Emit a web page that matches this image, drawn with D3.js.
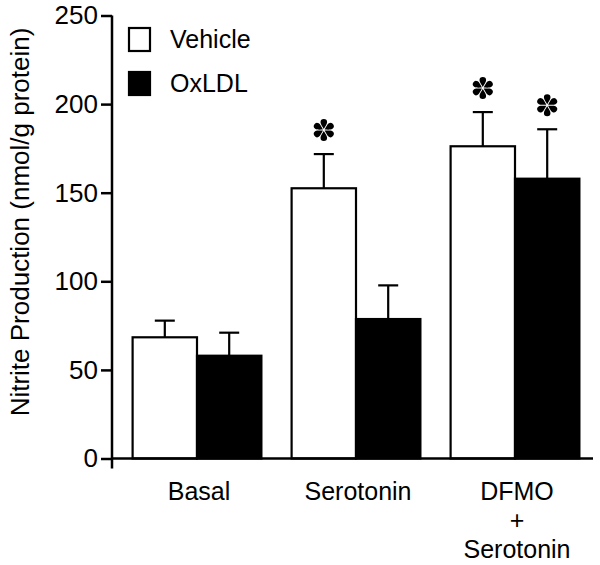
<!DOCTYPE html>
<html>
<head>
<meta charset="utf-8">
<script src="https://cdn.jsdelivr.net/npm/d3@7"></script>
<style>
  body { margin: 0; background: #fff; }
  svg { display: block; font-family: Arial, "Liberation Sans", sans-serif; }
</style>
</head>
<body>
<svg id="chart" width="600" height="565"></svg>
<script>
const categories = ["Basal", "Serotonin", "DFMO\n+\nSerotonin"];
const seriesNames = ["Vehicle", "OxLDL"];
const vehicleMeans = [68.4, 152.5, 176.2];
const vehicleErrTop = [77.8, 171.8, 195.5];
const oxldlMeans = [58.0, 78.7, 157.9];
const oxldlErrTop = [71.0, 97.7, 185.8];
const vehicleSig = [false, true, true];
const oxldlSig = [false, false, true];
const yTicks = [0, 50, 100, 150, 200, 250];

const svg = d3.select("#chart");
const axisX0 = 112, axisX1 = 593;
const y = d3.scaleLinear().domain([0, 250]).range([458.5, 15.5]);
const x0 = d3.scaleBand().domain(categories).range([117.5, 594.5]).paddingInner(0.19).paddingOuter(0.095);
const x1 = d3.scaleBand().domain(seriesNames).range([0, x0.bandwidth()]);

const series = [
  { name: "Vehicle", means: vehicleMeans, err: vehicleErrTop, sig: vehicleSig, fill: "#fff" },
  { name: "OxLDL", means: oxldlMeans, err: oxldlErrTop, sig: oxldlSig, fill: "#000" }
];

const rows = [];
series.forEach(s => categories.forEach((c, i) => rows.push({ s, c, v: s.means[i], e: s.err[i], sig: s.sig[i] })));

function drawAsterisk(sel, cx, cy) {
  const a = sel.append("g").attr("transform", `translate(${cx},${cy})`);
  for (let k = 0; k < 6; k++) {
    const ang = k * 60;
    a.append("path")
      .attr("d", "M0,-1 C-1.2,-3 -3.3,-6 -3.3,-7.7 A3.3,3.3 0 0 1 3.3,-7.7 C3.3,-6 1.2,-3 0,-1 Z")
      .attr("transform", `rotate(${ang})`)
      .attr("fill", "#000");
  }
}

const g = svg.append("g");
// error bars
rows.forEach(r => {
  const cx = x0(r.c) + x1(r.s.name) + x1.bandwidth() / 2;
  g.append("line").attr("x1", cx).attr("x2", cx).attr("y1", y(r.v)).attr("y2", y(r.e))
    .attr("stroke", "#000").attr("stroke-width", 2.2);
  g.append("line").attr("x1", cx - 10).attr("x2", cx + 10).attr("y1", y(r.e)).attr("y2", y(r.e))
    .attr("stroke", "#000").attr("stroke-width", 2.2);
  if (r.sig) drawAsterisk(g, cx, y(r.e) - 24);
});
// bars
rows.forEach(r => {
  const bx = x0(r.c) + x1(r.s.name);
  g.append("rect").attr("x", bx).attr("y", y(r.v)).attr("width", x1.bandwidth())
    .attr("height", y(0) - y(r.v)).attr("fill", r.s.fill).attr("stroke", "#000").attr("stroke-width", 2.2);
});

// y axis
const yAxis = d3.axisLeft(y).tickValues(yTicks).tickSize(11).tickPadding(3).tickSizeOuter(0);
const ya = svg.append("g").attr("transform", `translate(${axisX0},0)`).call(yAxis);
ya.select(".domain").remove();
ya.append("line").attr("x1", 0).attr("x2", 0).attr("y1", y(250)).attr("y2", y(0) + 10)
  .attr("stroke", "#000").attr("stroke-width", 2.5);
ya.selectAll(".tick line").attr("stroke-width", 2.5);
ya.selectAll(".tick text").attr("font-size", 26).attr("fill", "#000")
  .attr("font-family", "Arial, 'Liberation Sans', sans-serif");

// x axis line
svg.append("line").attr("x1", axisX0).attr("x2", axisX1).attr("y1", y(0)).attr("y2", y(0))
  .attr("stroke", "#000").attr("stroke-width", 2.5);

// category labels
categories.forEach(c => {
  const lines = c.split("\n");
  const cx = x0(c) + x0.bandwidth() / 2 + 2;
  lines.forEach((ln, j) => {
    svg.append("text").attr("x", cx).attr("y", 500 + j * 29).attr("text-anchor", "middle")
      .attr("font-size", 25).text(ln);
  });
});

// y axis title
svg.append("text").attr("transform", "translate(29,222) rotate(-90)").attr("text-anchor", "middle")
  .attr("font-size", 26).text("Nitrite Production (nmol/g protein)");

// legend
series.forEach((s, i) => {
  const ly = 28 + i * 44;
  svg.append("rect").attr("x", 129).attr("y", ly).attr("width", 21).attr("height", 23)
    .attr("fill", s.fill).attr("stroke", "#000").attr("stroke-width", 2.2);
  svg.append("text").attr("x", 170).attr("y", ly + 20).attr("font-size", 25).text(s.name);
});
</script>
</body>
</html>
